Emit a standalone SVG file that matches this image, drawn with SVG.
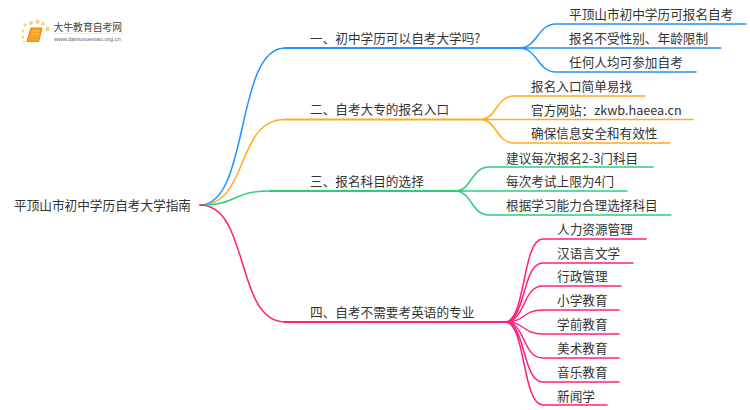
<svg xmlns="http://www.w3.org/2000/svg" width="750" height="410" viewBox="0 0 750 410">
<style>
text{font-family:"Noto Sans CJK SC","Noto Sans",sans-serif;font-size:12.65px;fill:#333}
path{fill:none;stroke-width:1.5;stroke-linecap:round}
.b{stroke:#2491ff}.o{stroke:#ffab1c}.g{stroke:#2ecb7f}.p{stroke:#ff1f7d}
.m{stroke-width:1.9}
</style>
<rect width="750" height="410" fill="#fff"/>
<g id="logo">
<g fill="#fbc95a" opacity=".85"><circle cx="25" cy="25" r="1.6"/><circle cx="23" cy="31" r="1.4"/><circle cx="31" cy="23" r="2"/><circle cx="37.500" cy="22" r="2"/><circle cx="43" cy="24" r="1.800"/><circle cx="47.500" cy="29" r="2.200"/><circle cx="23" cy="37" r="1.200"/><circle cx="24" cy="42" r="1"/></g>
<path d="M31 28H42L38.500 41.500H27Z" style="fill:#f7a11f;stroke:#ee8a14;stroke-width:1.200;stroke-linejoin:round"/>
<path d="M33 31H39.500M32 34H38.500" style="stroke:#ffd27a;stroke-width:.8"/>
<text x="53.500" y="31" style="font-size:9.800px;fill:#444">大牛教育自考网</text>
<path d="M54 33.500H123" style="stroke:#ddd;stroke-width:.6"/>
<text x="54" y="41" style="font-size:5.900px;fill:#666;font-family:'Liberation Sans',sans-serif">www.daniuxuexiao.org.cn</text>
</g>
<g id="connectors">
<path class="b" d="M200 205C250 205 235 48 285 48"/>
<path class="o" d="M200 205C250 205 235 119.500 285 119.500"/>
<path class="g" d="M200 205C240 205 230 191 270 191"/>
<path class="p" d="M200 205C250 205 235 322 285 322"/>
<path class="b m" d="M285 48H520"/>
<path class="o m" d="M285 119.500H480"/>
<path class="g m" d="M270 191H456"/>
<path class="p m" d="M285 322H506"/>
<path class="b" d="M519 48C538 48 537 24 556 24H746M519 48H721M519 48C538 48 537 72 556 72H696"/>
<path class="o" d="M480 119.500C497 119.500 496 96 514 96H645M480 119.500H693M480 119.500C497 119.500 496 143 514 143H670"/>
<path class="g" d="M455 191C472 191 471 167 489 167H653M455 191H627M455 191C472 191 471 215 489 215H671"/>
<path class="p" d="M505 322C526 322 522 239 543 239H646M505 322C526 322 522 263 543 263H633M505 322C526 322 522 286 543 286H621M505 322C526 322 522 310 543 310H619M505 322C526 322 522 334 543 334H619M505 322C526 322 522 358 543 358H619M505 322C526 322 522 382 543 382H619M505 322C526 322 522 405 543 405H607"/>
</g>
<g id="root"><text x="14" y="210">平顶山市初中学历自考大学指南</text></g>
<g id="b1"><text x="310" y="43">一、初中学历可以自考大学吗?</text></g>
<g id="b2"><text x="310" y="114">二、自考大专的报名入口</text></g>
<g id="b3"><text x="310" y="186">三、报名科目的选择</text></g>
<g id="b4"><text x="310" y="317">四、自考不需要考英语的专业</text></g>
<g id="l11"><text x="569" y="19">平顶山市初中学历可报名自考</text></g>
<g id="l12"><text x="569" y="43">报名不受性别、年龄限制</text></g>
<g id="l13"><text x="569" y="67">任何人均可参加自考</text></g>
<g id="l21"><text x="531" y="91">报名入口简单易找</text></g>
<g id="l22"><text x="531" y="115">官方网站&#xFF1A;zkwb.haeea.cn</text></g>
<g id="l23"><text x="531" y="138">确保信息安全和有效性</text></g>
<g id="l31"><text x="506" y="163">建议每次报名2-3门科目</text></g>
<g id="l32"><text x="506" y="186">每次考试上限为4门</text></g>
<g id="l33"><text x="506" y="210">根据学习能力合理选择科目</text></g>
<g id="l41"><text x="557" y="234">人力资源管理</text></g>
<g id="l42"><text x="557" y="258">汉语言文学</text></g>
<g id="l43"><text x="557" y="281">行政管理</text></g>
<g id="l44"><text x="557" y="305">小学教育</text></g>
<g id="l45"><text x="557" y="329">学前教育</text></g>
<g id="l46"><text x="557" y="353">美术教育</text></g>
<g id="l47"><text x="557" y="377">音乐教育</text></g>
<g id="l48"><text x="557" y="401">新闻学</text></g>
</svg>
